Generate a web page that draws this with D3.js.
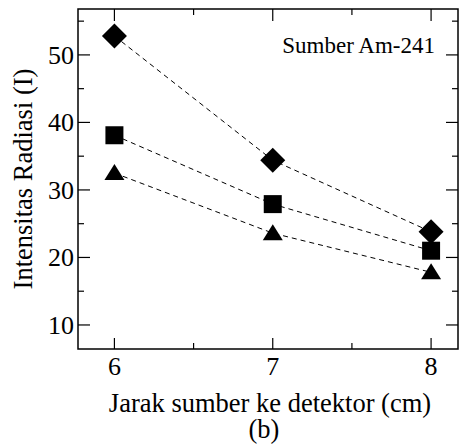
<!DOCTYPE html>
<html>
<head>
<meta charset="utf-8">
<script src="https://cdn.jsdelivr.net/npm/d3@7"></script>
<style>
  body { margin: 0; background: #fff; }
  text { font-family: "Liberation Serif", "Times New Roman", serif; fill: #000; }
</style>
</head>
<body>
<div id="container"></div>
<script>
  const distances = [6, 7, 8];
  const diamondValues = [52.8, 34.4, 23.8];
  const squareValues = [38.1, 27.9, 21.0];
  const triangleValues = [32.5, 23.6, 17.8];
  const xTicks = [6, 7, 8];
  const yTicks = [10, 20, 30, 40, 50];

  const width = 459, height = 446;
  const padL = 78, padT = 9, padR = 458, padB = 349;

  const svg = d3.select("#container").append("svg")
    .attr("width", width)
    .attr("height", height);

  const x = d3.scaleLinear().domain([5.77, 8.17]).range([padL, padR]);
  const y = d3.scaleLinear().domain([6.44, 56.8]).range([padB, padT]);

  // ticks (inside)
  const g = svg.append("g").attr("stroke", "#000").attr("stroke-width", 1.2);
  const xMinor = [6.5, 7.5];
  xTicks.forEach(v => {
    g.append("line").attr("x1", x(v)).attr("x2", x(v)).attr("y1", padB).attr("y2", padB - 11);
    g.append("line").attr("x1", x(v)).attr("x2", x(v)).attr("y1", padT).attr("y2", padT + 12);
  });
  xMinor.forEach(v => {
    g.append("line").attr("x1", x(v)).attr("x2", x(v)).attr("y1", padB).attr("y2", padB - 6);
    g.append("line").attr("x1", x(v)).attr("x2", x(v)).attr("y1", padT).attr("y2", padT + 6);
  });
  const yMinor = [15, 25, 35, 45, 55];
  yTicks.forEach(v => {
    g.append("line").attr("x1", padL).attr("x2", padL + 12).attr("y1", y(v)).attr("y2", y(v));
    g.append("line").attr("x1", padR).attr("x2", padR - 12).attr("y1", y(v)).attr("y2", y(v));
  });
  yMinor.forEach(v => {
    g.append("line").attr("x1", padL).attr("x2", padL + 6).attr("y1", y(v)).attr("y2", y(v));
    g.append("line").attr("x1", padR).attr("x2", padR - 6).attr("y1", y(v)).attr("y2", y(v));
  });

  svg.append("rect")
    .attr("x", padL).attr("y", padT)
    .attr("width", padR - padL).attr("height", padB - padT)
    .attr("fill", "none").attr("stroke", "#000").attr("stroke-width", 1.5);

  // tick labels
  svg.selectAll(".xl").data(xTicks).join("text")
    .attr("x", d => x(d)).attr("y", 375)
    .attr("text-anchor", "middle").attr("font-size", 26)
    .text(d => d);
  svg.selectAll(".yl").data(yTicks).join("text")
    .attr("x", 74).attr("y", d => y(d) + 9)
    .attr("text-anchor", "end").attr("font-size", 26)
    .text(d => d);

  // titles
  svg.append("text").attr("x", 270).attr("y", 412)
    .attr("text-anchor", "middle").attr("font-size", 26.5)
    .text("Jarak sumber ke detektor (cm)");
  svg.append("text").attr("x", 264).attr("y", 438)
    .attr("text-anchor", "middle").attr("font-size", 26.5)
    .text("(b)");
  svg.append("text")
    .attr("transform", `translate(32,${(padT + padB) / 2}) rotate(-90)`)
    .attr("text-anchor", "middle").attr("font-size", 26.5)
    .text("Intensitas Radiasi (I)");
  svg.append("text").attr("x", 435).attr("y", 53)
    .attr("text-anchor", "end").attr("font-size", 23)
    .text("Sumber Am-241");

  // series
  const series = [
    { values: diamondValues, shape: "diamond" },
    { values: squareValues, shape: "square" },
    { values: triangleValues, shape: "triangle" }
  ];
  const line = d3.line().x((d, i) => x(distances[i])).y(d => y(d));

  series.forEach(s => {
    svg.append("path")
      .attr("d", line(s.values))
      .attr("fill", "none").attr("stroke", "#000")
      .attr("stroke-width", 1).attr("stroke-dasharray", "5,4");
  });

  const shapePath = (shape) => {
    if (shape === "diamond") return "M0,-12.5L12.5,0L0,12.5L-12.5,0Z";
    if (shape === "square") return "M-9,-9H9V9H-9Z";
    return "M0,-9L10,7H-10Z";
  };

  series.forEach(s => {
    svg.selectAll(null).data(s.values).join("path")
      .attr("transform", (d, i) => `translate(${x(distances[i])},${y(d)})`)
      .attr("d", shapePath(s.shape))
      .attr("fill", "#000");
  });
</script>
</body>
</html>
